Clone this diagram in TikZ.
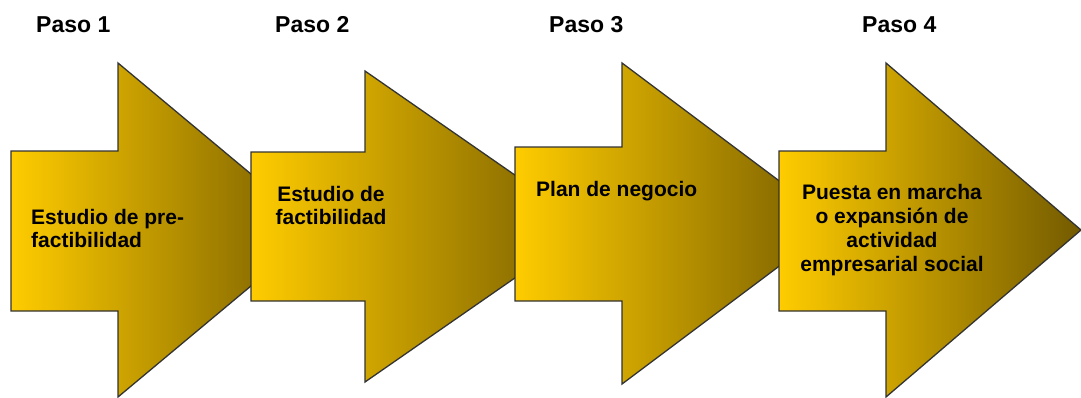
\documentclass[tikz,border=0pt]{standalone}
\usepackage{fontspec}
\setmainfont{Liberation Sans}
\definecolor{pasogold}{HTML}{FFCC00}
\definecolor{pasodark}{HTML}{735A00}
\definecolor{pasoline}{HTML}{333333}
\begin{document}
\begin{tikzpicture}[x=1pt,y=-1pt,
  pasoarrow/.style={draw=pasoline,line width=1.3pt,line join=miter,left color=pasogold,right color=pasodark},
  pasotitle/.style={anchor=base west,inner sep=0pt,font=\fontsize{23}{26}\selectfont\bfseries},
  pasotext/.style={inner sep=0pt,font=\fontsize{21}{23.5}\selectfont\bfseries}]
\useasboundingbox (0,0) rectangle (1081,397);

% pasos
\node[pasotitle] (paso1) at (36,32) {Paso 1};
\node[pasotitle] (paso2) at (275,32) {Paso 2};
\node[pasotitle] (paso3) at (549,32) {Paso 3};
\node[pasotitle] (paso4) at (862,32) {Paso 4};

% flechas
\draw[pasoarrow] (11,151) -- (118,151) -- (118,63) -- (318,230) -- (118,397) -- (118,311) -- (11,311) -- cycle;
\node[pasotext,anchor=north west,align=left] (etapa1) at (31,208.7) {Estudio de pre-\\factibilidad};

\draw[pasoarrow] (251,152) -- (365,152) -- (365,71) -- (589,226.5) -- (365,382) -- (365,301) -- (251,301) -- cycle;
\node[pasotext,anchor=north,align=center] (etapa2) at (331,185.7) {Estudio de\\factibilidad};

\draw[pasoarrow] (515,147) -- (622,147) -- (622,63) -- (836,223.5) -- (622,384) -- (622,301) -- (515,301) -- cycle;
\node[pasotext,anchor=north west,align=left] (etapa3) at (536,180.7) {Plan de negocio};

\draw[pasoarrow] (779,151) -- (886,151) -- (886,63) -- (1081,230) -- (886,397) -- (886,311) -- (779,311) -- cycle;
\node[pasotext,anchor=north,align=center,font=\fontsize{21}{24.2}\selectfont\bfseries] (etapa4) at (892,183.7) {Puesta en marcha\\o expansión de\\actividad\\empresarial social};

\end{tikzpicture}
\end{document}
